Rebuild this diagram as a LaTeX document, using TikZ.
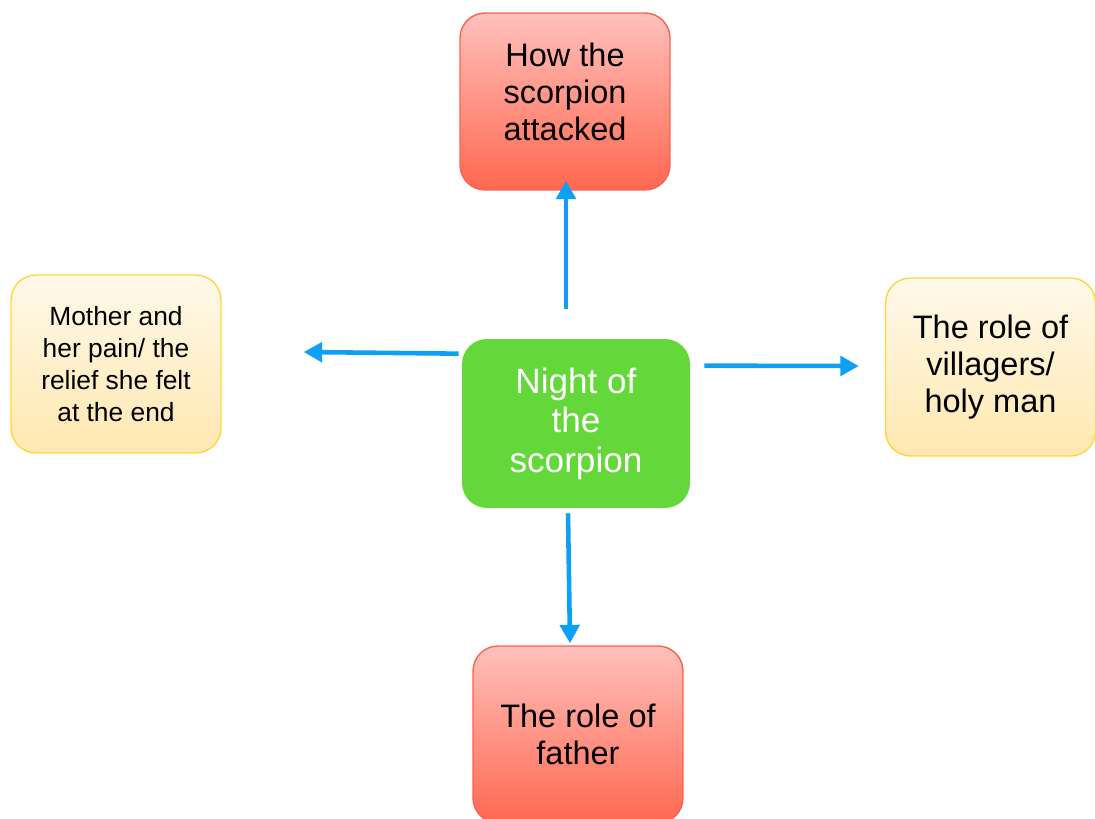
\documentclass[tikz,border=0pt]{standalone}
\usepackage{fontspec}
\setmainfont{Liberation Sans}
\usetikzlibrary{positioning, arrows.meta, calc}
\definecolor{linkblue}{RGB}{14,160,245}
\definecolor{hubgreen}{RGB}{100,216,58}
\definecolor{redtop}{RGB}{255,192,188}
\definecolor{redbottom}{RGB}{255,104,80}
\definecolor{rededge}{RGB}{250,98,78}
\definecolor{yellowtop}{RGB}{255,249,234}
\definecolor{yellowbottom}{RGB}{255,232,176}
\definecolor{yellowedge}{RGB}{255,214,60}
\tikzset{
  hub/.style={rectangle, rounded corners=0.5cm, minimum width=4.56cm, minimum height=3.38cm, align=center, text=white, fill=hubgreen, font=\fontsize{20}{22.5}\selectfont},
  topic/.style={rectangle, rounded corners=0.5cm, minimum width=4.2cm, minimum height=3.54cm, align=center, draw=rededge, line width=0.8pt, top color=redtop, bottom color=redbottom, font=\fontsize{18.5}{21}\selectfont},
  theme/.style={rectangle, rounded corners=0.5cm, minimum width=4.2cm, minimum height=3.56cm, align=center, draw=yellowedge, line width=0.8pt, top color=yellowtop, bottom color=yellowbottom},
  link/.style={draw=linkblue, line width=2.6pt, -{Triangle[length=10.5pt,width=11pt]}}
}

\begin{document}
\begin{tikzpicture}[x=0.02cm, y=-0.02cm]
    \useasboundingbox (0,0) rectangle (1095,818);

    % Tema central
    \node[hub] (night) at (576,423.5) {Night of\\the\\scorpion};

    % Cajas alrededor
    \node[topic] (attack) at (565,101.5) {How the\\scorpion\\attacked\\[-10pt]};
    \node[topic] (father) at (578,734.5) {The role of\\father};
    \node[theme, font=\fontsize{15}{18.2}\selectfont] (mother) at (116,364) {Mother and\\her pain/ the\\relief she felt\\at the end};
    \node[theme, font=\fontsize{18.5}{21}\selectfont] (villagers) at (990.5,367) {The role of\\villagers/\\holy man};

    % Flechas
    \draw[link] ($(night.north)+(-10,-30)$) -- ($(attack.south)+(1,-10)$);
    \draw[link] ($(night.north west)+(-3,15)$) -- ($(mother.east)+(82,-12)$);
    \draw[link] ($(night.north east)+(14,27)$) -- ($(villagers.west)+(-26,-1)$);
    \draw[link] ($(night.south)+(-8,5)$) -- ($(father.north)+(-8,-2)$);

\end{tikzpicture}
\end{document}
